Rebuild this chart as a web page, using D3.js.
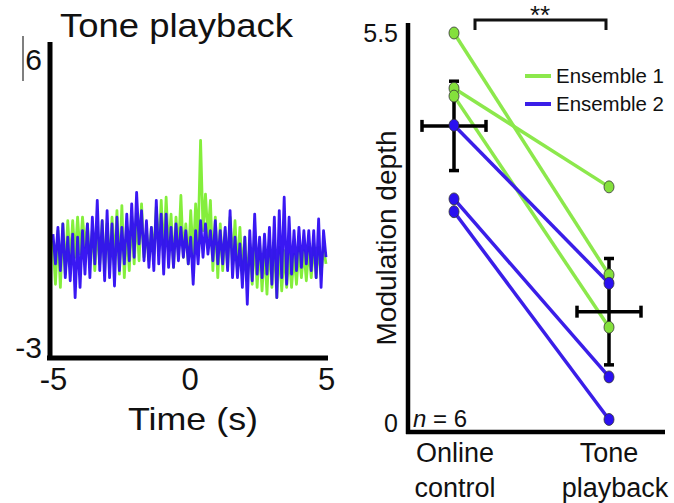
<!DOCTYPE html>
<html>
<head>
<meta charset="utf-8">
<script src="https://cdn.jsdelivr.net/npm/d3@7"></script>
<style>
  body { margin: 0; background: #fff; }
  text { font-family: "Liberation Sans", Arial, sans-serif; fill: #111; }
</style>
</head>
<body>
<svg id="chart" width="674" height="503"></svg>
<script>
// ---- left panel data (tone playback traces) ----
var timeRange = [-5, 5];
var timeTicks = [-5, 0, 5];
var traceYLabels = [6, -3];

var ensemble1Trace = [
  0.34, -0.90, 0.63, -0.99, 0.82, -0.61, 0.91, -0.32, 0.91, -0.13,
  1.01, -0.04, 1.01, 0.15, 0.82, -0.32, 0.63, -0.51, 0.72, -0.32,
  0.91, -0.51, 0.82, -0.42, 1.01, -0.32, 1.20, -0.61, 1.34, -0.71,
  0.72, -0.51, 1.01, -0.32, 1.10, -0.23, 1.39, -0.13, 0.63, -0.23,
  0.72, -0.04, 1.29, 0.06, 1.49, -0.13, 1.58, 0.06, 1.10, -0.42,
  1.01, -0.04, 1.63, -0.13, 0.82, -0.32, 1.20, -0.13, 1.39, 0.34,
  3.20, 0.63, 1.67, 0.44, 1.49, -0.51, 1.01, -0.71, 0.82, -0.51,
  0.63, -0.42, 1.01, -0.32, 0.91, -0.51, 0.72, -0.61, 0.44, -0.80,
  0.25, -0.90, 0.44, -0.99, 0.25, -1.09, 0.15, -1.18, 0.34, -0.99,
  0.34, -1.28, 0.15, -1.09, 0.06, -0.99, -0.04, -0.99, -0.04, -0.90,
  0.15, -0.71, 0.06, -0.80, 0.15, -0.71, 0.25, -0.71, 0.15, -0.61,
  0.15, -0.32
];

var ensemble2Trace = [
  0.53, -0.32, 0.72, -0.51, 0.82, -0.71, 0.44, -0.80, 0.53, -1.28,
  0.44, -0.99, 0.63, -0.61, 0.82, -0.71, 1.01, -0.32, 1.49, -0.51,
  0.91, -0.80, 1.20, -0.71, 0.82, -0.95, 1.01, -0.51, 0.72, -0.32,
  1.10, -0.23, 1.39, -0.13, 1.72, 0.25, 1.20, -0.23, 0.91, -0.42,
  0.72, -0.51, 1.49, -0.32, 1.10, -0.61, 1.10, -0.42, 0.72, -0.42,
  0.82, -0.23, 0.72, -0.13, 0.63, -0.32, 0.44, -0.90, 0.63, -0.32,
  0.91, -0.13, 0.82, -0.04, 0.63, -0.23, 0.91, -0.32, 0.63, -0.32,
  0.72, -0.51, 1.20, -0.71, 0.44, -0.71, 0.25, -0.99, 0.44, -1.47,
  0.63, -0.80, 1.10, -0.61, 0.44, -0.71, 0.53, -0.61, 0.72, -0.90,
  1.01, -1.28, 1.20, -0.71, 1.58, -0.90, 1.01, -0.61, 0.63, -0.51,
  0.72, -0.42, 0.63, -0.32, 0.63, -0.51, 0.63, -0.71, 0.96, -0.99,
  0.63, -0.13
];

// ---- right panel data (modulation depth) ----
var conditions = ["Online control", "Tone playback"];
var ensemble1Pairs = [[5.5, 2.09], [4.72, 3.33], [4.61, 1.35]];
var ensemble2Pairs = [[4.20, 1.97], [3.16, 0.65], [2.98, 0.05]];
var condMeans = [4.19, 1.57];
var condErr = [0.63, 0.75];
var depthTicks = [5.5, 0];
var nLabel = 6;

var green = "#84ee3c", blue = "#2f0cf2";
var svg = d3.select("#chart");

// ================= left panel =================
var xT = d3.scaleLinear().domain(timeRange).range([53, 326]);
var yT = d3.scaleLinear().domain([-3, 6]).range([358, 42]);

function sampleTimes(arr) {
  return arr.map(function (v, i) {
    return [timeRange[0] + (timeRange[1] - timeRange[0]) * i / (arr.length - 1), v];
  });
}

var traceLine = d3.line()
  .x(function (d) { return xT(d[0]); })
  .y(function (d) { return yT(d[1]); });

svg.append("path")
  .datum(sampleTimes(ensemble1Trace))
  .attr("d", traceLine)
  .attr("fill", "none")
  .attr("stroke", green)
  .attr("stroke-width", 2.8)
  .attr("stroke-linejoin", "round");

svg.append("path")
  .datum(sampleTimes(ensemble2Trace))
  .attr("d", traceLine)
  .attr("fill", "none")
  .attr("stroke", blue)
  .attr("stroke-width", 2.8)
  .attr("stroke-opacity", 0.95)
  .attr("stroke-linejoin", "round");

// axes
svg.append("line")
  .attr("x1", 50).attr("x2", 50)
  .attr("y1", yT(6)).attr("y2", 360)
  .attr("stroke", "#000").attr("stroke-width", 5);
svg.append("line")
  .attr("x1", 47).attr("x2", 328)
  .attr("y1", 358).attr("y2", 358)
  .attr("stroke", "#000").attr("stroke-width", 5);

var xAxisL = svg.append("g")
  .attr("transform", "translate(0,362)")
  .call(d3.axisBottom(xT).tickValues(timeTicks).tickSize(0)
    .tickFormat(function (d) { return String(d); }));
xAxisL.select(".domain").remove();
xAxisL.selectAll("text")
  .attr("y", 28)
  .attr("dy", 0)
  .style("font-size", "31px")
  .style("fill", "#111")
  .style("font-family", "'Liberation Sans', Arial, sans-serif");

svg.selectAll("text.ylab")
  .data(traceYLabels)
  .enter()
  .append("text")
  .attr("class", "ylab")
  .attr("x", 42)
  .attr("y", function (d) { return d > 0 ? yT(d) + 28 : yT(d); })
  .attr("text-anchor", "end")
  .style("font-size", "30px")
  .text(function (d) { return d; });

// thin bar beside the "6"
svg.append("line")
  .attr("x1", 23).attr("x2", 23).attr("y1", 36).attr("y2", 81)
  .attr("stroke", "#555").attr("stroke-width", 1.5);

svg.append("text")
  .attr("x", 60).attr("y", 37)
  .attr("textLength", 233).attr("lengthAdjust", "spacingAndGlyphs")
  .style("font-size", "33px")
  .text("Tone playback");

svg.append("text")
  .attr("x", 193).attr("y", 430)
  .attr("text-anchor", "middle")
  .attr("textLength", 130).attr("lengthAdjust", "spacingAndGlyphs")
  .style("font-size", "32px")
  .text("Time (s)");

// ================= right panel =================
var xC = d3.scalePoint().domain(conditions).range([454, 609]);
var yC = d3.scaleLinear().domain([0, 5.5]).range([423, 33]);

svg.append("line")
  .attr("x1", 408).attr("x2", 408).attr("y1", 23).attr("y2", 434)
  .attr("stroke", "#000").attr("stroke-width", 4.5);
svg.append("line")
  .attr("x1", 406).attr("x2", 665).attr("y1", 432).attr("y2", 432)
  .attr("stroke", "#000").attr("stroke-width", 4.5);

svg.selectAll("text.dtick")
  .data(depthTicks)
  .enter()
  .append("text")
  .attr("class", "dtick")
  .attr("x", 398)
  .attr("y", function (d) { return yC(d) + 9; })
  .attr("text-anchor", "end")
  .style("font-size", "25px")
  .text(function (d) { return d; });

svg.append("text")
  .attr("transform", "translate(396,238) rotate(-90)")
  .attr("text-anchor", "middle")
  .attr("textLength", 215).attr("lengthAdjust", "spacingAndGlyphs")
  .style("font-size", "27px")
  .text("Modulation depth");

// category labels
var catLines = [["Online", "control"], ["Tone", "playback"]];
conditions.forEach(function (c, i) {
  var t = svg.append("text")
    .attr("text-anchor", "middle")
    .style("font-size", "27px");
  t.append("tspan").attr("x", xC(c) + (i ? 0 : 1)).attr("y", 462).text(catLines[i][0]);
  t.append("tspan").attr("x", xC(c) + (i ? 6 : 1)).attr("y", 497).text(catLines[i][1]);
});

// paired lines
function drawPairs(pairs, color) {
  svg.selectAll(null)
    .data(pairs)
    .enter()
    .append("line")
    .attr("x1", xC(conditions[0]))
    .attr("x2", xC(conditions[1]))
    .attr("y1", function (d) { return yC(d[0]); })
    .attr("y2", function (d) { return yC(d[1]); })
    .attr("stroke", color)
    .attr("stroke-width", 3.5);
}
drawPairs(ensemble1Pairs, "#8ce84c");
drawPairs(ensemble2Pairs, "#3a1ee8");

// error crosses
var errHalfX = 32;
conditions.forEach(function (c, i) {
  var cx = xC(c), cy = yC(condMeans[i]);
  var yTop = yC(condMeans[i] + condErr[i]), yBot = yC(condMeans[i] - condErr[i]);
  var g = svg.append("g").attr("stroke", "#000").attr("stroke-width", 3.5);
  g.append("line").attr("x1", cx).attr("x2", cx).attr("y1", yTop).attr("y2", yBot);
  g.append("line").attr("x1", cx - 5).attr("x2", cx + 5).attr("y1", yTop).attr("y2", yTop);
  g.append("line").attr("x1", cx - 5).attr("x2", cx + 5).attr("y1", yBot).attr("y2", yBot);
  g.append("line").attr("x1", cx - errHalfX).attr("x2", cx + errHalfX).attr("y1", cy).attr("y2", cy);
  g.append("line").attr("x1", cx - errHalfX).attr("x2", cx - errHalfX).attr("y1", cy - 6).attr("y2", cy + 6);
  g.append("line").attr("x1", cx + errHalfX).attr("x2", cx + errHalfX).attr("y1", cy - 6).attr("y2", cy + 6);
});

// dots
function drawDots(pairs, color) {
  pairs.forEach(function (p) {
    p.forEach(function (v, j) {
      svg.append("ellipse")
        .attr("cx", xC(conditions[j]))
        .attr("cy", yC(v))
        .attr("rx", 5).attr("ry", 6)
        .attr("fill", color)
        .attr("stroke", "#333")
        .attr("stroke-width", 0.8);
    });
  });
}
drawDots(ensemble1Pairs, "#84e03c");
drawDots(ensemble2Pairs, "#2a10f0");

// significance bracket
svg.append("path")
  .attr("d", "M475,30 V20 H606 V30")
  .attr("fill", "none")
  .attr("stroke", "#111")
  .attr("stroke-width", 3);
svg.append("text")
  .attr("x", 540).attr("y", 24)
  .attr("text-anchor", "middle")
  .style("font-size", "26px")
  .text("**");

// legend
var legend = [["Ensemble 1", "#8ce84c"], ["Ensemble 2", "#3a1ee8"]];
legend.forEach(function (l, i) {
  svg.append("line")
    .attr("x1", 525).attr("x2", 551)
    .attr("y1", 76 + i * 28).attr("y2", 76 + i * 28)
    .attr("stroke", l[1]).attr("stroke-width", 4);
  svg.append("text")
    .attr("x", 556).attr("y", 83 + i * 28)
    .attr("textLength", 108).attr("lengthAdjust", "spacingAndGlyphs")
    .style("font-size", "21px")
    .text(l[0]);
});

// n label
var nText = svg.append("text").attr("x", 413).attr("y", 427).style("font-size", "24px");
nText.append("tspan").style("font-style", "italic").text("n");
nText.append("tspan").text(" = " + nLabel);
</script>
</body>
</html>
